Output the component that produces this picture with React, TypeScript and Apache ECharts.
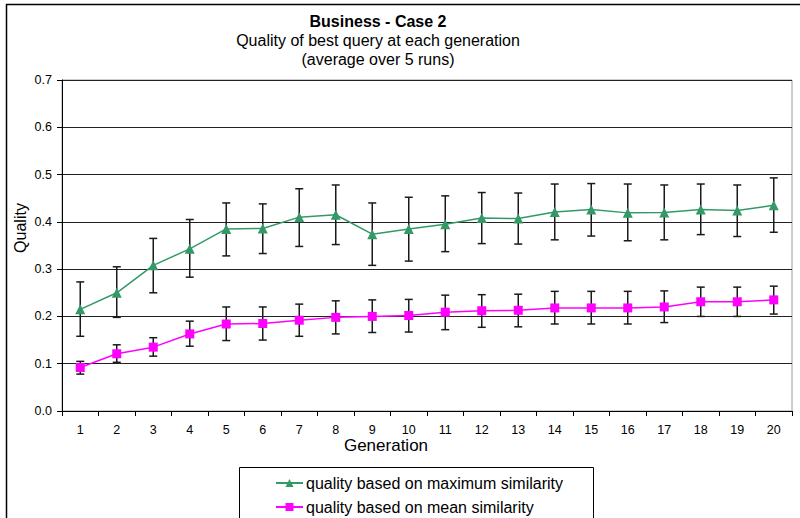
import React, { useEffect, useRef } from "react";
import * as echarts from "echarts";

const generations = ["1","2","3","4","5","6","7","8","9","10","11","12","13","14","15","16","17","18","19","20"];
const maxSimilarity = [0.215,0.25,0.308,0.343,0.385,0.386,0.41,0.415,0.374,0.385,0.395,0.408,0.407,0.421,0.426,0.419,0.42,0.426,0.424,0.435];
const maxLow = [0.158,0.198,0.25,0.283,0.328,0.333,0.348,0.352,0.308,0.317,0.337,0.354,0.353,0.362,0.37,0.36,0.362,0.373,0.369,0.378];
const maxHigh = [0.273,0.305,0.365,0.405,0.44,0.438,0.47,0.478,0.44,0.452,0.455,0.462,0.461,0.48,0.481,0.48,0.478,0.48,0.478,0.493];
const meanSimilarity = [0.092,0.121,0.135,0.163,0.184,0.185,0.192,0.198,0.2,0.202,0.209,0.212,0.213,0.218,0.218,0.218,0.22,0.231,0.231,0.235];
const meanLow = [0.078,0.103,0.116,0.137,0.149,0.15,0.158,0.163,0.166,0.167,0.172,0.177,0.178,0.184,0.184,0.184,0.187,0.2,0.2,0.205];
const meanHigh = [0.105,0.14,0.155,0.19,0.22,0.22,0.226,0.233,0.235,0.236,0.245,0.246,0.247,0.253,0.253,0.253,0.254,0.262,0.262,0.264];
const yTicks = [0, 0.1, 0.2, 0.3, 0.4, 0.5, 0.6, 0.7];
const seriesNames = ["quality based on maximum similarity", "quality based on mean similarity"];
const titleLines = ["Business - Case 2", "Quality of best query at each generation", "(average over 5 runs)"];

const FONT = "'Liberation Sans', Arial, sans-serif";

function errorSeries(low: number[], high: number[]) {
  return {
    type: "custom",
    z: 1,
    silent: true,
    data: low.map((l, i) => [i, l, high[i]]),
    renderItem: (params: any, api: any) => {
      const x = api.value(0);
      const lo = api.coord([x, api.value(1)]);
      const hi = api.coord([x, api.value(2)]);
      const cap = 4;
      const style = { stroke: "#1a1a1a", lineWidth: 1.5 };
      return {
        type: "group",
        children: [
          { type: "line", shape: { x1: lo[0], y1: lo[1], x2: hi[0], y2: hi[1] }, style },
          { type: "line", shape: { x1: lo[0] - cap, y1: lo[1], x2: lo[0] + cap, y2: lo[1] }, style },
          { type: "line", shape: { x1: hi[0] - cap, y1: hi[1], x2: hi[0] + cap, y2: hi[1] }, style },
        ],
      };
    },
  };
}

export default function App() {
  const ref = useRef<HTMLDivElement>(null);
  useEffect(() => {
    document.body.style.margin = "0";
    const chart = echarts.init(ref.current!, undefined, { renderer: "svg" });
    const legendCommon = {
      orient: "horizontal",
      left: 275,
      itemWidth: 27,
      itemHeight: 10,
      padding: 0,
      textStyle: { fontFamily: FONT, fontSize: 16, color: "#000", padding: [0, 0, 0, -2] },
    };
    chart.setOption({
      animation: false,
      backgroundColor: "#fff",
      textStyle: { fontFamily: FONT },
      grid: {
        left: 62, right: 8, top: 80, bottom: 107,
        show: true, borderColor: "#9a9a9a", borderWidth: 1,
      },
      legend: [
        { ...legendCommon, top: 475, data: [seriesNames[0]] },
        { ...legendCommon, top: 499, data: [seriesNames[1]] },
      ],
      xAxis: {
        type: "category",
        data: generations,
        boundaryGap: true,
        axisLine: { lineStyle: { color: "#000", width: 1 } },
        axisTick: { show: true, alignWithLabel: false, length: 5, lineStyle: { color: "#000" } },
        axisLabel: { fontFamily: FONT, fontSize: 12.5, color: "#000", margin: 12 },
        splitLine: { show: false },
      },
      yAxis: {
        type: "value",
        min: yTicks[0],
        max: yTicks[yTicks.length - 1],
        interval: 0.1,
        axisLine: { show: true, lineStyle: { color: "#000", width: 1 } },
        axisTick: { show: true, length: 5, lineStyle: { color: "#000" } },
        axisLabel: { fontFamily: FONT, fontSize: 12.5, color: "#000", margin: 10, formatter: (v: number) => v.toFixed(1) },
        splitLine: { show: true, lineStyle: { color: "#222", width: 1 } },
      },
      series: [
        errorSeries(maxLow, maxHigh),
        errorSeries(meanLow, meanHigh),
        {
          name: seriesNames[0],
          type: "line",
          z: 3,
          data: maxSimilarity,
          symbol: "triangle",
          symbolSize: 10,
          itemStyle: { color: "#339966" },
          lineStyle: { color: "#339966", width: 1.5 },
        },
        {
          name: seriesNames[1],
          type: "line",
          z: 3,
          data: meanSimilarity,
          symbol: "rect",
          symbolSize: 9,
          itemStyle: { color: "#ff00ff" },
          lineStyle: { color: "#ff00ff", width: 1.5 },
        },
      ],
      graphic: [
        {
          type: "rect",
          shape: { x: 6.5, y: 4.5, width: 800, height: 530 },
          style: { fill: "none", stroke: "#000", lineWidth: 1.5 },
          silent: true,
          z: 100,
        },
        {
          type: "rect",
          shape: { x: 239.5, y: 467.5, width: 354, height: 60 },
          style: { fill: "none", stroke: "#000", lineWidth: 1 },
          silent: true,
          z: 100,
        },
        ...titleLines.map((t, i) => ({
          type: "text",
          x: 378,
          y: 21 + i * 19,
          style: {
            text: t,
            fontFamily: FONT,
            fontSize: 16,
            fontWeight: i === 0 ? "bold" : "normal",
            fill: "#000",
            align: "center",
            verticalAlign: "middle",
          },
          silent: true,
        })),
        {
          type: "text",
          x: 386,
          y: 445,
          style: {
            text: "Generation",
            fontFamily: FONT,
            fontSize: 17,
            fill: "#000",
            align: "center",
            verticalAlign: "middle",
          },
          silent: true,
        },
        {
          type: "text",
          x: 20,
          y: 228,
          rotation: Math.PI / 2,
          style: {
            text: "Quality",
            fontFamily: FONT,
            fontSize: 16,
            fill: "#000",
            align: "center",
            verticalAlign: "middle",
          },
          silent: true,
        },
      ],
    });
    return () => chart.dispose();
  }, []);
  return <div ref={ref} style={{ position: "fixed", left: 0, top: 0, width: 800, height: 518 }} />;
}
